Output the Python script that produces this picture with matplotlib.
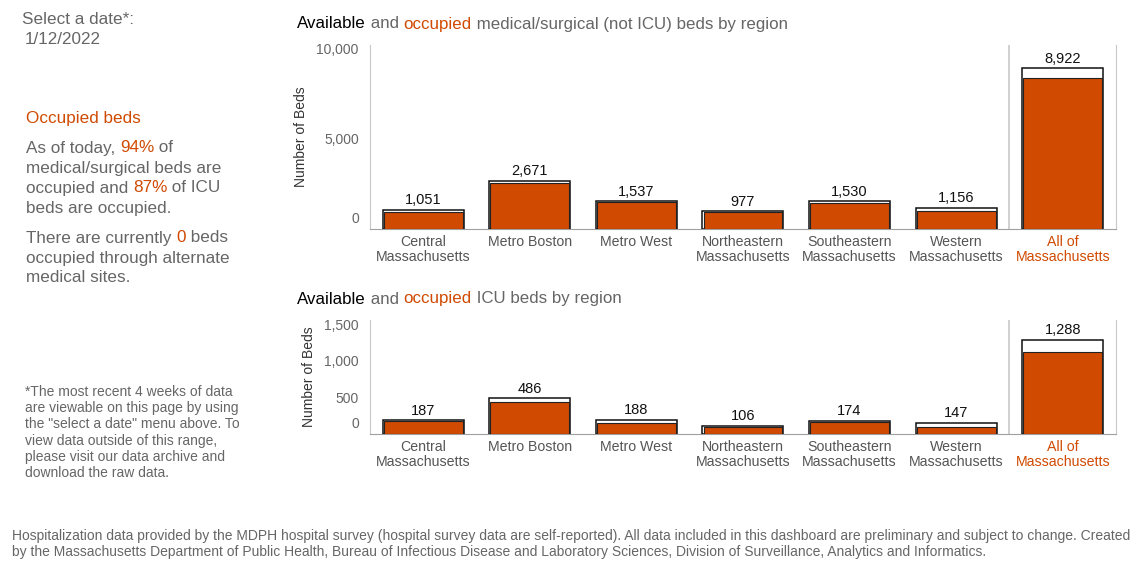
import matplotlib.pyplot as plt
import matplotlib.transforms as mtransforms
from matplotlib.ticker import FuncFormatter

plt.rcParams['font.family'] = ['Liberation Sans', 'DejaVu Sans']

# data (1/12/2022)
regions = ['Central\nMassachusetts', 'Metro Boston', 'Metro West',
           'Northeastern\nMassachusetts', 'Southeastern\nMassachusetts',
           'Western\nMassachusetts', 'All of\nMassachusetts']
medsurg_total = [1051, 2671, 1537, 977, 1530, 1156, 8922]
medsurg_occupied = [965, 2555, 1490, 950, 1450, 1025, 8387]
icu_total = [187, 486, 188, 106, 174, 147, 1288]
icu_occupied = [175, 440, 152, 100, 165, 90, 1121]
medsurg_ticks = [0, 5000, 10000]
icu_ticks = [0, 500, 1000, 1500]

ORANGE = '#D04A02'
GRAY = '#666666'
DARK = '#333333'

fig = plt.figure(figsize=(11.39, 5.67), dpi=100)


def draw_panel(ax, total, occupied, ticks, ymax):
    x = range(len(regions))
    ax.bar(x, total, width=0.76, color='white', edgecolor='#111111', linewidth=1.1, zorder=2)
    ax.bar(x, occupied, width=0.74, color=ORANGE, edgecolor='#222222', linewidth=0.8, zorder=3)
    for xi, t in zip(x, total):
        ax.annotate(f'{t:,}', (xi, t), xytext=(0, 2), textcoords='offset points',
                    ha='center', va='bottom', fontsize=10.5, color='#111111')
    ax.set_xlim(-0.5, len(regions) - 0.5)
    ax.set_ylim(0, ymax)
    ax.set_yticks(ticks)
    ax.yaxis.set_major_formatter(FuncFormatter(lambda v, p: f'{int(v):,}'))
    ax.set_xticks(list(x))
    ax.set_xticklabels(regions, fontsize=10.2, color='#555555', linespacing=1.15)
    ax.get_xticklabels()[-1].set_color(ORANGE)
    ax.tick_params(axis='y', length=0, labelsize=10, labelcolor=GRAY, pad=8)
    ax.tick_params(axis='x', length=0, pad=4)
    # tableau lifts the zero label off the baseline
    lbl0 = ax.get_yticklabels()[0]
    lbl0.set_transform(lbl0.get_transform() + mtransforms.ScaledTranslation(0, 8 / 72, fig.dpi_scale_trans))
    ax.set_ylabel('Number of Beds', fontsize=10, color=DARK, labelpad=6)
    ax.spines['top'].set_visible(False)
    ax.spines['left'].set_color('#c8c8c8')
    ax.spines['right'].set_color('#c8c8c8')
    ax.spines['bottom'].set_color('#a0a0a0')
    ax.axvline(len(regions) - 1.5, color='#c8c8c8', linewidth=1.2, zorder=1)


ax1 = fig.add_axes([0.3248, 0.5961, 0.655, 0.3245])
draw_panel(ax1, medsurg_total, medsurg_occupied, medsurg_ticks, 10220)
ax2 = fig.add_axes([0.3248, 0.2346, 0.655, 0.2010])
draw_panel(ax2, icu_total, icu_occupied, icu_ticks, 1560)


def rich_text(x, y, pieces, size):
    # place colored pieces one after another on a line
    renderer = fig.canvas.get_renderer()
    for txt, col in pieces:
        t = fig.text(x, y, txt, color=col, fontsize=size, va='center', ha='left')
        bb = t.get_window_extent(renderer=renderer)
        x = bb.x1 / fig.bbox.width


H = 567.0
rich_text(297 / 1139, 1 - 24 / H, [('Available', 'black'), (' and ', GRAY), ('occupied', ORANGE),
                                  (' medical/surgical (not ICU) beds by region', GRAY)], 12.2)
rich_text(297 / 1139, 1 - 299 / H, [('Available', 'black'), (' and ', GRAY), ('occupied', ORANGE),
                                   (' ICU beds by region', GRAY)], 12.2)

# left side panel
fig.text(22 / 1139, 1 - 20 / H, 'Select a date*:', fontsize=12.3, color=GRAY, va='center')
fig.text(25 / 1139, 1 - 39 / H, '1/12/2022', fontsize=12.3, color=GRAY, va='center')
fig.text(26 / 1139, 1 - 119 / H, 'Occupied beds', fontsize=12.3, color=ORANGE, va='center')

lines = [
    (148, [('As of today, ', GRAY), ('94%', ORANGE), (' of', GRAY)]),
    (168, [('medical/surgical beds are', GRAY)]),
    (188, [('occupied and ', GRAY), ('87%', ORANGE), (' of ICU', GRAY)]),
    (208, [('beds are occupied.', GRAY)]),
    (238, [('There are currently ', GRAY), ('0', ORANGE), (' beds', GRAY)]),
    (258, [('occupied through alternate', GRAY)]),
    (278, [('medical sites.', GRAY)]),
]
for y, pieces in lines:
    rich_text(26 / 1139, 1 - y / H, pieces, 12.3)

fig.text(25 / 1139, 1 - 385 / H,
         '*The most recent 4 weeks of data\nare viewable on this page by using\n'
         'the "select a date" menu above. To\nview data outside of this range,\n'
         'please visit our data archive and\ndownload the raw data.',
         fontsize=10, color=GRAY, va='top', linespacing=1.2)

fig.text(12 / 1139, 1 - 529 / H,
         'Hospitalization data provided by the MDPH hospital survey (hospital survey data are self-reported). '
         'All data included in this dashboard are preliminary and subject to change. Created\n'
         'by the Massachusetts Department of Public Health, Bureau of Infectious Disease and Laboratory Sciences, '
         'Division of Surveillance, Analytics and Informatics.',
         fontsize=10, color=GRAY, va='top', linespacing=1.15)

fig.savefig('out.png', dpi=100, facecolor='white')
